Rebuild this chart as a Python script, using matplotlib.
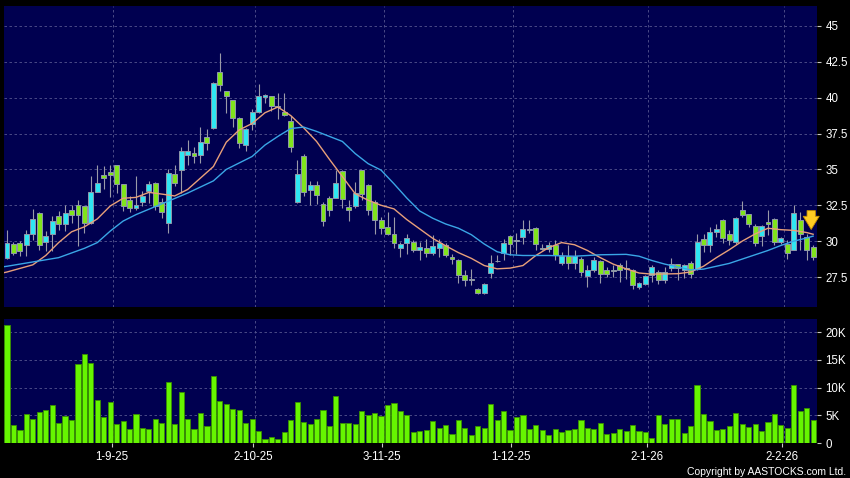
import matplotlib
matplotlib.use("Agg")
import matplotlib.pyplot as plt
import numpy as np

plt.rcParams['font.family'] = ['Liberation Sans', 'DejaVu Sans']

# date ticks (trading-day index) and labels
tick_idx = [16, 38, 58, 78, 99, 120]
tick_labels = ["1-9-25", "2-10-25", "3-11-25", "1-12-25", "2-1-26", "2-2-26"]

price_ticks = [27.5, 30, 32.5, 35, 37.5, 40, 42.5, 45]
vol_ticks = [0, 5, 10, 15, 20]

opens = [28.82, 29.83, 29.87, 29.71, 30.5, 31.97, 29.94, 30.52, 31.73, 31.22,
         32.15, 32.52, 32.43, 31.27, 33.43, 34.62, 34.8, 35.29, 33.99, 32.85,
         32.31, 32.71, 33.48, 34.06, 32.71, 31.27, 34.69, 34.99, 35.99, 36.15,
         35.97, 37.24, 37.9, 41.8, 40.45, 39.83, 38.59, 36.73, 38.2, 38.99,
         40.06, 40.1, 39.45, 39.01, 38.36, 32.71, 35.92, 33.59, 33.9, 32.62,
         33.01, 33.01, 34.92, 32.38, 32.43, 34.94, 33.9, 32.73, 31.5, 30.99,
         30.52, 29.55, 29.87, 29.94, 29.41, 29.55, 29.17, 29.52, 29.71, 28.9,
         28.71, 27.62, 27.32, 26.64, 26.41, 27.8, 28.6, 29.17, 30.36, 30.0,
         30.29, 30.8, 30.94, 29.5, 29.48, 29.76, 28.5, 28.97, 28.5, 28.78,
         27.55, 28.01, 28.59, 28.01, 27.98, 28.31, 28.1, 28.01, 26.8, 27.03,
         27.62, 27.85, 27.31, 28.13, 28.38, 27.96, 28.48, 28.08, 30.17, 29.71,
         30.64, 31.5, 30.48, 29.94, 32.15, 31.87, 31.06, 30.34, 31.34, 31.57,
         29.94, 29.83, 29.41, 31.45, 30.29, 29.59]
highs = [30.8, 29.95, 29.98, 30.8, 32.24, 32.0, 30.69, 31.73, 32.08, 32.55,
         32.55, 32.9, 32.45, 34.57, 35.34, 35.22, 35.3, 35.3, 34.0, 33.13,
         34.52, 33.48, 34.17, 34.1, 33.0, 35.03, 35.34, 36.57, 37.08, 36.57,
         37.97, 37.83, 41.1, 43.08, 40.5, 39.85, 38.65, 37.9, 39.2, 40.92,
         40.29, 40.12, 40.33, 40.34, 38.7, 35.69, 36.1, 34.17, 34.17, 32.76,
         33.13, 34.99, 34.95, 32.9, 34.13, 34.95, 34.0, 32.85, 31.69, 32.03,
         31.69, 29.94, 30.52, 30.06, 29.94, 30.17, 30.4, 30.17, 29.87, 29.13,
         28.75, 28.01, 28.06, 26.7, 27.05, 29.01, 29.01, 30.17, 30.4, 30.57,
         31.5, 31.5, 30.96, 29.83, 29.94, 30.06, 29.24, 29.71, 29.36, 28.9,
         28.31, 28.9, 28.66, 28.2, 28.31, 28.48, 28.66, 28.08, 27.15, 27.62,
         28.31, 27.96, 28.2, 28.83, 28.4, 28.43, 28.62, 30.52, 30.52, 31.0,
         31.22, 31.55, 30.76, 31.7, 32.78, 31.9, 31.22, 31.1, 32.15, 31.6,
         30.3, 30.06, 32.5, 32.03, 30.52, 29.71]
lows = [28.75, 29.05, 28.94, 28.94, 30.1, 29.4, 29.3, 29.3, 30.8, 30.69,
        31.27, 29.64, 30.57, 31.2, 33.4, 33.6, 33.1, 33.36, 32.08, 32.01,
        32.15, 32.43, 32.66, 32.2, 31.62, 30.57, 33.83, 33.36, 35.34, 35.45,
        35.45, 36.38, 37.8, 40.45, 38.94, 37.97, 36.5, 36.27, 37.78, 38.95,
        39.64, 39.06, 38.5, 38.7, 36.2, 32.65, 33.13, 32.55, 32.62, 31.03,
        31.73, 33.0, 32.31, 31.38, 32.34, 32.85, 31.8, 30.52, 30.52, 30.4,
        29.55, 28.9, 29.13, 29.24, 28.71, 28.9, 29.01, 28.9, 28.9, 28.43,
        27.08, 26.85, 26.94, 26.29, 26.34, 27.45, 28.55, 28.66, 29.01, 29.13,
        29.83, 30.6, 29.36, 29.36, 29.24, 28.66, 28.31, 28.08, 28.08, 27.55,
        26.8, 27.85, 27.08, 27.5, 27.5, 27.15, 27.38, 26.69, 26.69, 26.96,
        27.15, 26.99, 27.08, 27.9, 27.31, 27.45, 27.45, 27.96, 29.24, 29.24,
        30.29, 29.87, 29.71, 29.83, 31.69, 30.99, 29.64, 29.64, 30.41, 29.71,
        29.83, 28.78, 29.36, 29.41, 28.66, 28.66]
closes = [29.86, 29.17, 29.29, 30.5, 31.55, 29.76, 30.34, 31.38, 31.22, 31.97,
          31.8, 31.8, 31.27, 33.43, 34.06, 34.41, 34.62, 33.99, 32.48, 32.31,
          32.52, 33.17, 33.99, 32.48, 32.01, 34.76, 34.06, 36.27, 36.27, 35.92,
          36.9, 36.85, 41.03, 40.85, 40.1, 38.59, 36.85, 37.85, 38.99, 40.1,
          40.17, 39.45, 39.35, 38.76, 36.57, 34.69, 33.41, 33.9, 33.2, 31.38,
          32.2, 34.06, 32.94, 32.15, 33.36, 33.27, 32.15, 31.5, 30.94, 30.52,
          29.87, 29.83, 30.24, 29.36, 29.59, 29.17, 29.64, 29.87, 29.01, 28.73,
          27.62, 27.27, 27.28, 26.41, 27.03, 28.48, 28.65, 29.87, 29.83, 30.02,
          30.87, 30.82, 29.83, 29.48, 29.71, 29.01, 28.97, 28.5, 28.94, 27.85,
          28.01, 28.71, 27.73, 27.69, 27.92, 27.96, 28.08, 26.92, 27.08, 27.55,
          28.2, 27.27, 27.85, 28.38, 28.13, 28.31, 27.73, 29.94, 29.71, 30.64,
          30.87, 30.22, 30.06, 31.64, 31.8, 31.17, 29.9, 31.03, 31.17, 29.94,
          30.24, 29.2, 31.97, 30.52, 29.36, 28.9]

# volume in thousands
volume_k = [21.3, 3.3, 2.4, 5.2, 4.4, 5.6, 6.0, 6.8, 3.6, 4.8,
            4.1, 14.2, 16.0, 14.5, 7.8, 4.7, 7.4, 3.5, 3.9, 2.6,
            5.3, 2.7, 2.6, 4.4, 3.7, 11.1, 3.4, 9.3, 4.4, 2.5,
            5.5, 3.1, 12.1, 7.6, 7.0, 6.1, 5.9, 3.6, 4.3, 2.2,
            0.8, 1.1, 0.8, 1.9, 4.2, 7.4, 3.8, 3.4, 4.4, 5.9,
            3.1, 8.5, 3.6, 3.7, 3.4, 5.8, 5.0, 5.5, 4.9, 6.9,
            7.3, 5.7, 5.1, 1.9, 2.2, 2.3, 4.0, 2.8, 3.2, 1.7,
            4.2, 2.8, 1.4, 3.1, 2.8, 7.1, 4.2, 5.8, 2.3, 4.7,
            5.1, 2.6, 3.2, 2.3, 1.4, 2.5, 1.9, 2.4, 2.6, 4.2,
            2.8, 2.5, 3.6, 1.7, 1.8, 2.6, 2.2, 3.2, 2.2, 1.9,
            0.9, 5.0, 3.4, 4.4, 4.3, 1.8, 3.0, 10.4, 5.2, 4.0,
            2.3, 2.5, 3.0, 5.5, 3.5, 2.9, 3.5, 2.2, 3.8, 5.2,
            3.3, 2.8, 10.5, 5.8, 6.4, 4.2]

# moving averages
ma_short_idx = [-0.5, 0, 4, 6, 8, 10, 12, 14, 16, 18, 20, 22, 24, 26, 28, 30,
                32, 34, 36, 38, 40, 42, 44, 46, 48, 50, 52, 54, 56, 58, 60, 62,
                64, 66, 68, 70, 72, 74, 76, 78, 80, 82, 84, 86, 88, 90, 92, 94,
                96, 98, 100, 104, 106, 108, 110, 112, 114, 116, 118, 120, 122,
                124, 125]
ma_short = [27.8, 27.85, 28.35, 29.0, 29.9, 30.65, 31.0, 31.55, 32.45, 32.99,
            33.05, 33.4, 33.28, 33.15, 33.6, 34.4, 35.2, 36.9, 37.75, 38.2,
            38.95, 39.35, 38.75, 37.9, 36.95, 35.7, 34.5, 33.3, 32.85, 32.5,
            32.25, 31.5, 30.85, 30.2, 29.68, 29.2, 28.8, 28.3, 28.07, 28.12,
            28.3, 29.0, 29.55, 29.9, 29.75, 29.35, 28.85, 28.4, 28.07, 27.78,
            27.7, 27.73, 27.85, 28.25, 28.85, 29.4, 30.0, 30.5, 30.9, 30.8,
            30.75, 30.6, 30.48]
ma_long_idx = [-0.5, 0, 4, 8, 12, 14, 16, 18, 20, 24, 28, 32, 34, 36, 38, 40,
               42, 44, 46, 48, 50, 52, 54, 56, 58, 60, 62, 64, 66, 68, 70, 72,
               74, 76, 78, 80, 84, 88, 92, 96, 98, 100, 102, 104, 106, 108, 110,
               112, 114, 116, 118, 120, 122, 124, 125]
ma_long = [28.22, 28.25, 28.55, 28.85, 29.5, 29.9, 30.7, 31.4, 31.85, 32.6,
           33.35, 34.2, 35.0, 35.45, 35.9, 36.7, 37.3, 37.85, 37.95, 37.65,
           37.3, 36.95, 36.1, 35.4, 34.95, 34.0, 33.0, 32.1, 31.6, 31.2,
           30.9, 30.45, 29.8, 29.26, 29.05, 29.0, 29.0, 28.95, 29.05, 29.08,
           28.95, 28.65, 28.4, 28.2, 28.0, 28.05, 28.25, 28.45, 28.75, 29.05,
           29.35, 29.7, 30.0, 30.22, 30.35]

bg = '#000050'
grid_kw = dict(color='#55558f', linestyle=(0, (3, 3)), linewidth=0.6)
up_col = '#2fe6f2'
down_col = '#80e41c'

fig = plt.figure(figsize=(8.5, 4.78), dpi=100, facecolor='black')
ax = fig.add_axes([4 / 850, 1 - 307 / 478, 813 / 850, 301 / 478])
axv = fig.add_axes([4 / 850, 1 - 443 / 478, 813 / 850, 124 / 478])

n = len(closes)
x = np.arange(n)
o = np.array(opens)
c = np.array(closes)
grid_x = [t + 0.45 for t in tick_idx]

for a in (ax, axv):
    a.set_facecolor(bg)
    for s in a.spines.values():
        s.set_visible(False)
    a.set_xlim(-0.47, 125.6)
    a.yaxis.tick_right()
    a.tick_params(colors='#c8c8c8', labelcolor='white', labelsize=8.3,
                  length=3, width=0.8, pad=3)
    a.set_axisbelow(True)
    for gx in grid_x:
        a.axvline(gx, zorder=0, **grid_kw)

# price panel
for py in price_ticks:
    ax.axhline(py, zorder=0, **grid_kw)
ax.set_ylim(25.41, 46.39)
ax.set_yticks(price_ticks)
ax.set_yticklabels([f"{p:g}" for p in price_ticks])
ax.set_xticks([])

ax.vlines(x, lows, highs, color='#9a9aa8', linewidth=0.8, zorder=2)
body_bottom = np.minimum(o, c)
body_h = np.maximum(np.abs(c - o), 0.05)
body_col = [up_col if cc >= oo else down_col for oo, cc in zip(opens, closes)]
ax.bar(x, body_h, bottom=body_bottom, width=0.76, color=body_col,
       edgecolor='#8f98aa', linewidth=0.7, zorder=2)

ax.plot(ma_short_idx, ma_short, color='#e8a07a', linewidth=1.0, zorder=3)
ax.plot(ma_long_idx, ma_long, color='#3aa6e6', linewidth=1.0, zorder=3)

# latest-day marker
ax.annotate('', xy=(n - 1.3, highs[-2] + 0.1), xytext=(n - 1.3, highs[-2] + 1.8),
            arrowprops=dict(arrowstyle='simple,head_width=1.15,head_length=0.95,tail_width=0.6',
                            fc='#ffcc22', ec='#c89000', lw=0.6),
            annotation_clip=False, zorder=5)

# volume panel
for vy in vol_ticks[1:]:
    axv.axhline(vy, zorder=0, **grid_kw)
axv.bar(x, volume_k, width=0.8, color='#66f500', edgecolor='#3a9000',
        linewidth=0.6, zorder=2)
axv.set_ylim(0, 22.4)
axv.set_yticks(vol_ticks)
axv.set_yticklabels(["0"] + [f"{v}K" for v in vol_ticks[1:]])
axv.set_xticks([t + 0.2 for t in tick_idx])
axv.set_xticklabels(tick_labels)

fig.text(0.995, 0.0126, "Copyright by AASTOCKS.com Ltd.", color='white',
         fontsize=7.5, ha='right', va='center')

fig.savefig("out.png", dpi=100, facecolor='black')
